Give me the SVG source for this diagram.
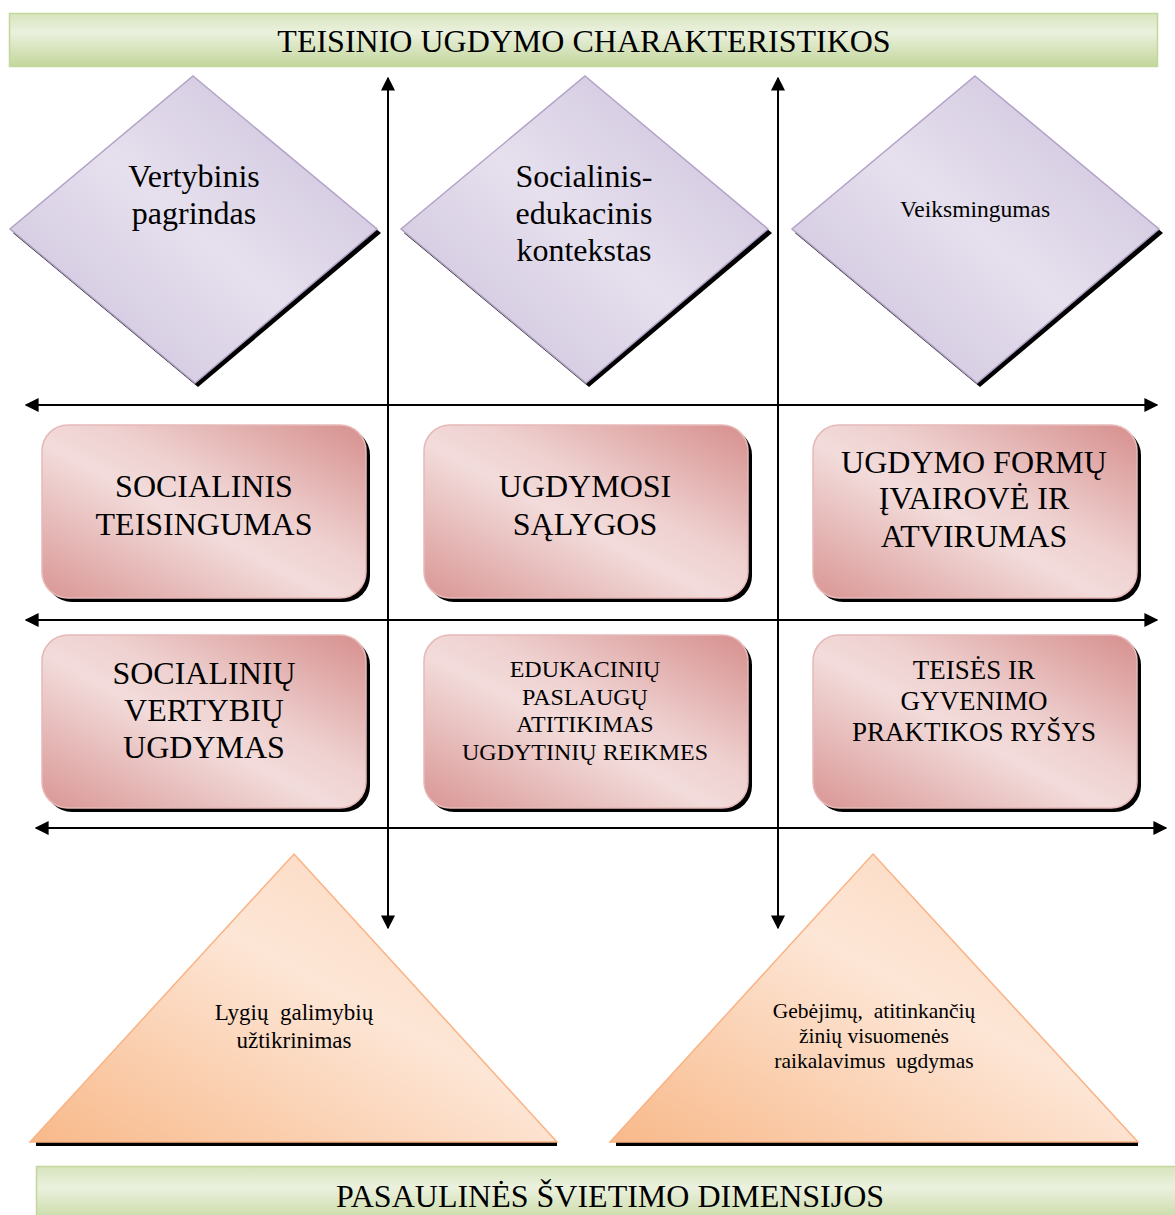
<svg xmlns="http://www.w3.org/2000/svg" width="1175" height="1215" viewBox="0 0 1175 1215">
<defs>
<linearGradient id="gGreen" x1="0" y1="0" x2="0" y2="1">
<stop offset="0" stop-color="#d7e4bd"/>
<stop offset="0.35" stop-color="#ebf1de"/>
<stop offset="1" stop-color="#c3d69b"/>
</linearGradient>
<linearGradient id="gPurple" x1="0" y1="1" x2="1" y2="0">
<stop offset="0" stop-color="#c9bdd9"/>
<stop offset="0.5" stop-color="#e6e0ee"/>
<stop offset="1" stop-color="#c9bdd9"/>
</linearGradient>
<linearGradient id="gPink" x1="0" y1="1" x2="1" y2="0">
<stop offset="0" stop-color="#d99694"/>
<stop offset="0.45" stop-color="#f2dcdb"/>
<stop offset="0.6" stop-color="#eed0cf"/>
<stop offset="1" stop-color="#d68f8d"/>
</linearGradient>
<linearGradient id="gOrange" x1="0" y1="1" x2="1" y2="0">
<stop offset="0" stop-color="#f8b98a"/>
<stop offset="0.55" stop-color="#fde6d6"/>
<stop offset="1" stop-color="#fbd4b8"/>
</linearGradient>
<marker id="arr" viewBox="0 0 10 10" refX="9" refY="5" markerWidth="7" markerHeight="7" orient="auto-start-reverse" markerUnits="strokeWidth">
<path d="M0,0 L10,5 L0,10 z" fill="#000"/>
</marker>
<style>
.t{font-family:"Liberation Serif","Times New Roman",serif;fill:#000;text-anchor:middle;white-space:pre}
.ax{stroke:#000;stroke-width:2;fill:none;marker-start:url(#arr);marker-end:url(#arr)}
.dia{fill:url(#gPurple);stroke:#b3a2c7;stroke-width:1.5}
.rr{fill:url(#gPink);stroke:#e6b9b8;stroke-width:1.5}
.tri{fill:url(#gOrange);stroke:#f9b384;stroke-width:1.5}
.sh{fill:#000}
</style>
</defs>
<rect width="1175" height="1215" fill="#fff"/>

<g id="banner-top">
<rect x="9.5" y="13.5" width="1148" height="53" fill="url(#gGreen)" stroke="#c3d69b" stroke-width="1.5"/>
<text class="t" x="584" y="52" font-size="32">TEISINIO UGDYMO CHARAKTERISTIKOS</text>
</g>

<g id="connectors">
<line class="ax" x1="388" y1="78" x2="388" y2="928"/>
<line class="ax" x1="778" y1="78" x2="778" y2="928"/>
<line class="ax" x1="26" y1="405" x2="1157" y2="405"/>
<line class="ax" x1="26" y1="620" x2="1157" y2="620"/>
<line class="ax" x1="36" y1="828" x2="1166" y2="828"/>
</g>

<g id="diamond-1">
<polygon class="sh" points="196,79 381,233 198,387 13,233"/>
<polygon class="dia" points="193,76 377,229 195,383 10,229"/>
<text class="t" x="194" y="187" font-size="32">Vertybinis</text>
<text class="t" x="194" y="224" font-size="32">pagrindas</text>
</g>
<g id="diamond-2">
<polygon class="sh" points="588,79 772,233 589,387 404,233"/>
<polygon class="dia" points="585,76 768,229 586,383 401,229"/>
<text class="t" x="584" y="187" font-size="32">Socialinis-</text>
<text class="t" x="584" y="224" font-size="32">edukacinis</text>
<text class="t" x="584" y="261" font-size="32">kontekstas</text>
</g>
<g id="diamond-3">
<polygon class="sh" points="978,79 1163,233 980,387 795,233"/>
<polygon class="dia" points="975,76 1159,229 977,383 792,229"/>
<text class="t" x="975" y="217" font-size="23.5">Veiksmingumas</text>
</g>

<g id="box-1">
<rect class="sh" x="46" y="429" width="324" height="173" rx="26"/>
<rect class="rr" x="42" y="425" width="324" height="173" rx="26"/>
<text class="t" x="204" y="497" font-size="32">SOCIALINIS</text>
<text class="t" x="204" y="535" font-size="32">TEISINGUMAS</text>
</g>
<g id="box-2">
<rect class="sh" x="428" y="429" width="324" height="173" rx="26"/>
<rect class="rr" x="424" y="425" width="324" height="173" rx="26"/>
<text class="t" x="585" y="497" font-size="32">UGDYMOSI</text>
<text class="t" x="585" y="535" font-size="32">SĄLYGOS</text>
</g>
<g id="box-3">
<rect class="sh" x="817" y="429" width="324" height="173" rx="26"/>
<rect class="rr" x="813" y="425" width="324" height="173" rx="26"/>
<text class="t" x="974" y="473" font-size="32">UGDYMO FORMŲ</text>
<text class="t" x="974" y="509" font-size="32">ĮVAIROVĖ IR</text>
<text class="t" x="974" y="547" font-size="32">ATVIRUMAS</text>
</g>
<g id="box-4">
<rect class="sh" x="46" y="639" width="324" height="173" rx="26"/>
<rect class="rr" x="42" y="635" width="324" height="173" rx="26"/>
<text class="t" x="204" y="684" font-size="32">SOCIALINIŲ</text>
<text class="t" x="204" y="721" font-size="32">VERTYBIŲ</text>
<text class="t" x="204" y="758" font-size="32">UGDYMAS</text>
</g>
<g id="box-5">
<rect class="sh" x="428" y="639" width="324" height="173" rx="26"/>
<rect class="rr" x="424" y="635" width="324" height="173" rx="26"/>
<text class="t" x="585" y="677" font-size="24">EDUKACINIŲ</text>
<text class="t" x="585" y="705" font-size="24">PASLAUGŲ</text>
<text class="t" x="585" y="732" font-size="24">ATITIKIMAS</text>
<text class="t" x="585" y="760" font-size="24">UGDYTINIŲ REIKMES</text>
</g>
<g id="box-6">
<rect class="sh" x="817" y="639" width="324" height="173" rx="26"/>
<rect class="rr" x="813" y="635" width="324" height="173" rx="26"/>
<text class="t" x="974" y="679" font-size="27">TEISĖS IR</text>
<text class="t" x="974" y="710" font-size="27">GYVENIMO</text>
<text class="t" x="974" y="741" font-size="27">PRAKTIKOS RYŠYS</text>
</g>

<g id="triangle-1">
<rect class="sh" x="36" y="1141" width="521" height="5"/>
<polygon class="tri" points="294,854 557,1142 30,1142"/>
<text class="t" x="294" y="1020" font-size="23">Lygių  galimybių</text>
<text class="t" x="294" y="1048" font-size="23">užtikrinimas</text>
</g>
<g id="triangle-2">
<rect class="sh" x="616" y="1141" width="522" height="5"/>
<polygon class="tri" points="873,854 1138,1142 610,1142"/>
<text class="t" x="874" y="1018" font-size="21.5">Gebėjimų,  atitinkančių</text>
<text class="t" x="874" y="1043" font-size="21.5">žinių visuomenės</text>
<text class="t" x="874" y="1068" font-size="21.5">raikalavimus  ugdymas</text>
</g>

<g id="banner-bottom">
<rect x="36.5" y="1166.5" width="1150" height="60" fill="url(#gGreen)" stroke="#c3d69b" stroke-width="1.5"/>
<text class="t" x="610" y="1207" font-size="32">PASAULINĖS ŠVIETIMO DIMENSIJOS</text>
</g>
</svg>
